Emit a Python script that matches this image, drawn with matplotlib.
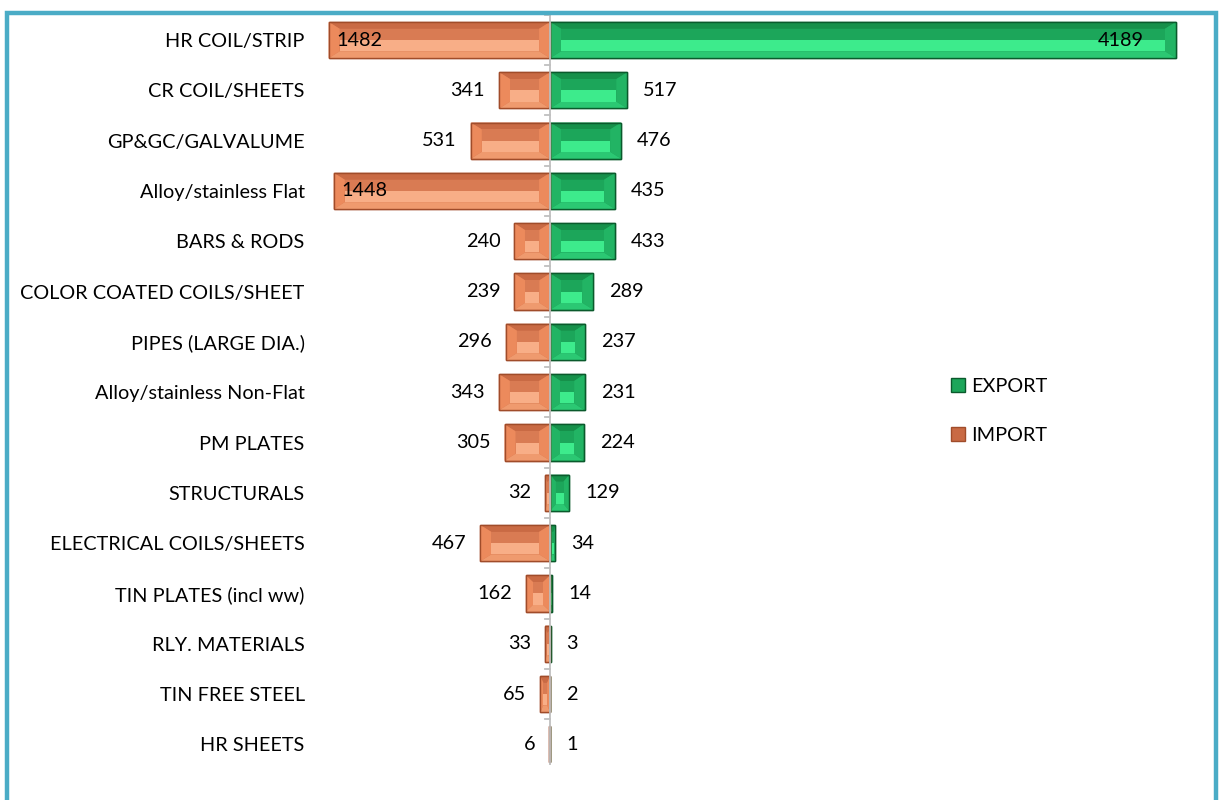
import matplotlib
matplotlib.use('Agg')
import matplotlib.pyplot as plt
from matplotlib.patches import Polygon, Patch, Rectangle

categories = ["HR COIL/STRIP", "CR COIL/SHEETS", "GP&GC/GALVALUME", "Alloy/stainless Flat",
              "BARS & RODS", "COLOR COATED COILS/SHEET", "PIPES (LARGE DIA.)",
              "Alloy/stainless Non-Flat", "PM PLATES", "STRUCTURALS",
              "ELECTRICAL COILS/SHEETS", "TIN PLATES (incl ww)", "RLY. MATERIALS",
              "TIN FREE STEEL", "HR SHEETS"]
export_vals = [4189, 517, 476, 435, 433, 289, 237, 231, 224, 129, 34, 14, 3, 2, 1]
import_vals = [1482, 341, 531, 1448, 240, 239, 296, 343, 305, 32, 467, 162, 33, 65, 6]
series_names = ["EXPORT", "IMPORT"]

plt.rcParams['font.family'] = ['Lato', 'DejaVu Sans']
FS = 14.3

W, H = 1221, 800
fig = plt.figure(figsize=(W / 100, H / 100), dpi=100)
ax_l, ax_r, ax_t, ax_b = 320, 1200, 15, 765
ax = fig.add_axes([ax_l / W, 1 - ax_b / H, (ax_r - ax_l) / W, (ax_b - ax_t) / H])
xlim = (-1540, 4350)
ax.set_xlim(*xlim)
n = len(categories)
ax.set_ylim(n - 0.59, -0.497)
sx = (xlim[1] - xlim[0]) / (ax_r - ax_l)  # data units per pixel

green = dict(edge='#0A5A2C', top='#16904A', in_top='#1CA65A', in_bot='#3DEB8C',
             bot='#2BC873', side='#22B464')
orange = dict(edge='#A04C2A', top='#C96A44', in_top='#D97B53', in_bot='#F8AE87',
              bot='#EF9A6E', side='#EC8A5C')

bh = 0.72
ypos = list(range(n))


def bevel(x0, x1, yc, h, pal):
    w = x1 - x0
    if w <= 0:
        return
    dx = min(11 * sx, w * 0.3)
    dy = h * 0.19
    yt, yb = yc - h / 2, yc + h / 2
    it, ib = yt + dy, yb - dy
    ix0, ix1 = x0 + dx, x1 - dx
    polys = [
        ([(x0, yt), (x1, yt), (ix1, it), (ix0, it)], pal['top']),
        ([(x0, yb), (x1, yb), (ix1, ib), (ix0, ib)], pal['bot']),
        ([(x0, yt), (ix0, it), (ix0, ib), (x0, yb)], pal['side']),
        ([(x1, yt), (ix1, it), (ix1, ib), (x1, yb)], pal['side']),
        ([(ix0, it), (ix1, it), (ix1, yc), (ix0, yc)], pal['in_top']),
        ([(ix0, yc), (ix1, yc), (ix1, ib), (ix0, ib)], pal['in_bot']),
    ]
    for pts, c in polys:
        ax.add_patch(Polygon(pts, closed=True, facecolor=c, edgecolor='none', zorder=3))
    ax.add_patch(Rectangle((x0, yt), w, h, facecolor='none', edgecolor=pal['edge'],
                           lw=1.0, zorder=4))


# base bars
ax.barh(ypos, export_vals, height=bh, color=green['in_top'], edgecolor=green['edge'],
        lw=1.0, zorder=2)
ax.barh(ypos, [-v for v in import_vals], height=bh, color=orange['in_top'],
        edgecolor=orange['edge'], lw=1.0, zorder=2)
for i in range(n):
    bevel(0, export_vals[i], ypos[i], bh, green)
    bevel(-import_vals[i], 0, ypos[i], bh, orange)

# zero axis line and ticks
ax.plot([0, 0], [-0.5, n - 0.5], color='#BFBFBF', lw=1.3, zorder=5)
for i in range(n + 1):
    ax.plot([-5 * sx, 0], [i - 0.5, i - 0.5], color='#BFBFBF', lw=1.3, zorder=5)

# value labels
for i in range(n):
    e, m = export_vals[i], import_vals[i]
    if e > 1000:
        ax.annotate(str(e), (e, i), xytext=(-32 * 0.72, 0), textcoords='offset points',
                    ha='right', va='center', fontsize=FS, zorder=6)
    else:
        ax.annotate(str(e), (e, i), xytext=(16 * 0.72, 0), textcoords='offset points',
                    ha='left', va='center', fontsize=FS, zorder=6)
    if m > 1000:
        ax.annotate(str(m), (-m, i), xytext=(8 * 0.72, 0), textcoords='offset points',
                    ha='left', va='center', fontsize=FS, zorder=6)
    else:
        ax.annotate(str(m), (-m, i), xytext=(-14 * 0.72, 0), textcoords='offset points',
                    ha='right', va='center', fontsize=FS, zorder=6)

ax.set_yticks(ypos)
ax.set_yticklabels(categories, fontsize=FS)
ax.tick_params(axis='y', length=0, pad=11)
ax.set_xticks([])
for s in ax.spines.values():
    s.set_visible(False)

handles = [Patch(facecolor=green['in_top'], edgecolor=green['edge'], label=series_names[0]),
           Patch(facecolor=orange['top'], edgecolor=orange['edge'], label=series_names[1])]
fig.legend(handles=handles, loc='upper left', bbox_to_anchor=(933 / W, 1 - 360 / H),
           frameon=False, fontsize=FS, handlelength=0.7, handleheight=0.7,
           handletextpad=0.3, labelspacing=1.6)

# outer frame
fig.patches.append(Rectangle((7 / W, -0.05), (1216 - 7) / W, 1.05 - 13 / H,
                             transform=fig.transFigure, facecolor='none',
                             edgecolor='#4BACC6', lw=3.2))

fig.savefig('out.png', dpi=100)
